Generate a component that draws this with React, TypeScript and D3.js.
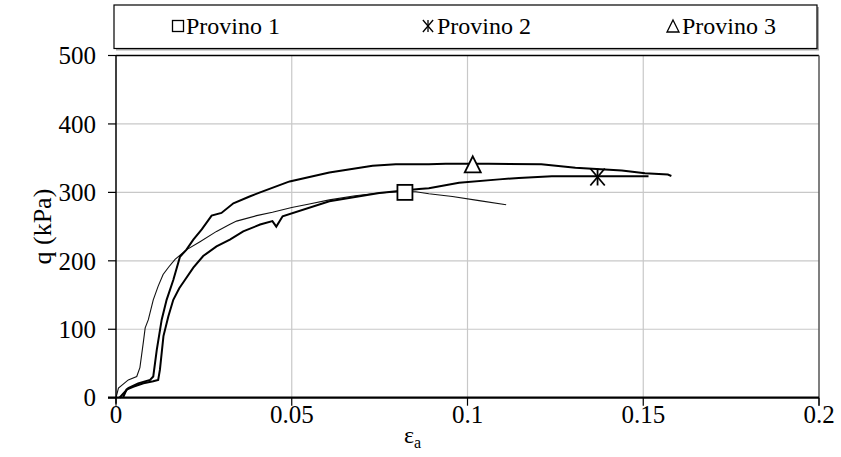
import React from "react";
import * as d3 from "d3";

const xTicks = [0, 0.05, 0.1, 0.15, 0.2];
const xTickLabels = ["0", "0.05", "0.1", "0.15", "0.2"];
const yTicks = [0, 100, 200, 300, 400, 500];

const provino1: [number, number][] = [
  [0, 0], [0.0007, 14], [0.0035, 26], [0.0059, 31], [0.0068, 44], [0.0078, 82],
  [0.0083, 102], [0.0092, 114], [0.0106, 143], [0.012, 163], [0.0134, 180],
  [0.015, 191], [0.0168, 202], [0.02, 216], [0.0239, 228], [0.0286, 243],
  [0.0323, 253], [0.0343, 258], [0.04, 266], [0.0445, 271], [0.05, 278],
  [0.055, 283], [0.0607, 289], [0.068, 295], [0.0749, 299], [0.08, 301],
  [0.0853, 301], [0.089, 298], [0.0957, 294], [0.1033, 288], [0.111, 282],
];

const provino2: [number, number][] = [
  [0.002, 0], [0.003, 12], [0.0049, 16], [0.0078, 21], [0.0106, 24], [0.012, 26],
  [0.0125, 41], [0.0135, 90], [0.0149, 119], [0.0163, 143], [0.018, 160],
  [0.0196, 172], [0.022, 190], [0.0248, 207], [0.0286, 221], [0.0324, 231],
  [0.0362, 243], [0.041, 253], [0.0445, 258], [0.0456, 250], [0.0474, 265],
  [0.0607, 287], [0.0749, 299], [0.0862, 305], [0.089, 306], [0.0976, 314],
  [0.109, 319], [0.1146, 321], [0.124, 323.5], [0.1515, 323.5],
];

const provino3: [number, number][] = [
  [0.001, 0], [0.0035, 14], [0.0063, 21], [0.0097, 26], [0.0106, 31], [0.0116, 70],
  [0.013, 114], [0.0144, 143], [0.0163, 172], [0.0182, 206], [0.02, 216],
  [0.022, 231], [0.0244, 246], [0.0272, 266], [0.03, 270], [0.0334, 284],
  [0.038, 294], [0.041, 300], [0.0494, 316], [0.0607, 329], [0.073, 339],
  [0.0796, 341], [0.089, 341], [0.0938, 342], [0.0995, 342], [0.106, 342],
  [0.121, 341], [0.1307, 336], [0.1439, 332], [0.1505, 328], [0.157, 326],
  [0.158, 324],
];

const markerSquare: [number, number] = [0.0822, 300];
const markerAsterisk: [number, number] = [0.137, 322.5];
const markerTriangle: [number, number] = [0.1015, 341];

const legendLabels = ["Provino 1", "Provino 2", "Provino 3"];

const W = 841;
const H = 457;
const left = 116;
const right = 819;
const top = 55.5;
const bottom = 397.7;

const font = "'Liberation Serif', 'Times New Roman', serif";

function Square({ cx, cy, s, sw }: { cx: number; cy: number; s: number; sw: number }) {
  return <rect x={cx - s / 2} y={cy - s / 2} width={s} height={s} fill="white" stroke="black" strokeWidth={sw} />;
}
function Asterisk({ cx, cy, s, sw }: { cx: number; cy: number; s: number; sw: number }) {
  const h = s / 2;
  return (
    <g stroke="black" strokeWidth={sw}>
      <line x1={cx} y1={cy - h} x2={cx} y2={cy + h} />
      <line x1={cx - h * 0.85} y1={cy - h} x2={cx + h * 0.85} y2={cy + h} />
      <line x1={cx - h * 0.85} y1={cy + h} x2={cx + h * 0.85} y2={cy - h} />
    </g>
  );
}
function Triangle({ cx, cy, s, sw }: { cx: number; cy: number; s: number; sw: number }) {
  const h = s / 2;
  return (
    <path
      d={`M${cx},${cy - h} L${cx + h},${cy + h} L${cx - h},${cy + h} Z`}
      fill="white"
      stroke="black"
      strokeWidth={sw}
    />
  );
}

export default function App() {
  const x = d3.scaleLinear().domain([0, 0.2]).range([left, right]);
  const y = d3.scaleLinear().domain([0, 500]).range([bottom, top]);
  const line = d3
    .line<[number, number]>()
    .x((d) => x(d[0]))
    .y((d) => y(d[1]));

  return (
    <svg width={W} height={H} style={{ position: "absolute", left: 0, top: 0 }}>
      <rect x={0} y={0} width={W} height={H} fill="white" />
      {yTicks.slice(1, -1).map((t) => (
        <line key={"gy" + t} x1={left} x2={right} y1={y(t)} y2={y(t)} stroke="#c8c8c8" strokeWidth={1.2} />
      ))}
      {xTicks.slice(1, -1).map((t) => (
        <line key={"gx" + t} x1={x(t)} x2={x(t)} y1={top} y2={bottom} stroke="#c8c8c8" strokeWidth={1.2} />
      ))}
      <line x1={left} x2={right} y1={top} y2={top} stroke="black" strokeWidth={1.5} />
      <line x1={right} x2={right} y1={top} y2={bottom + 8} stroke="#555" strokeWidth={1.5} />

      <path d={line(provino1) || ""} fill="none" stroke="#111" strokeWidth={1.1} />
      <path d={line(provino2) || ""} fill="none" stroke="black" strokeWidth={2} />
      <path d={line(provino3) || ""} fill="none" stroke="black" strokeWidth={2} />

      <line x1={left} x2={left} y1={top} y2={bottom + 6} stroke="black" strokeWidth={1.5} />
      <line x1={left - 8} x2={right} y1={bottom} y2={bottom} stroke="black" strokeWidth={2.2} />
      {yTicks.map((t) => (
        <g key={"ty" + t}>
          <line x1={left - 8} x2={left} y1={y(t)} y2={y(t)} stroke="black" strokeWidth={1.2} />
          <text x={left - 20} y={y(t)} dy="0.35em" textAnchor="end" fontFamily={font} fontSize={25}>
            {t}
          </text>
        </g>
      ))}
      {xTicks.map((t, i) => (
        <g key={"tx" + t}>
          <line x1={x(t)} x2={x(t)} y1={bottom} y2={bottom + 8} stroke="black" strokeWidth={1.2} />
          <text x={x(t)} y={414} dy="0.35em" textAnchor="middle" fontFamily={font} fontSize={25}>
            {xTickLabels[i]}
          </text>
        </g>
      ))}

      <text
        transform={`translate(42, ${(top + bottom) / 2}) rotate(-90)`}
        textAnchor="middle"
        dy="0.35em"
        fontFamily={font}
        fontSize={26}
      >
        q (kPa)
      </text>
      <text x={404} y={443} fontFamily={font} fontSize={24}>
        ε<tspan fontSize={16} dy={5}>a</tspan>
      </text>

      <Square cx={x(markerSquare[0])} cy={y(markerSquare[1])} s={15} sw={1.8} />
      <Asterisk cx={x(markerAsterisk[0])} cy={y(markerAsterisk[1])} s={17} sw={1.8} />
      <Triangle cx={x(markerTriangle[0])} cy={y(markerTriangle[1])} s={16} sw={1.8} />

      <rect x={116} y={7} width={703} height={43.5} fill="#aaa" />
      <rect x={114} y={5} width={703} height={43.5} fill="white" stroke="black" strokeWidth={1.2} />
      <Square cx={178} cy={26} s={11} sw={1.3} />
      <text x={186} y={26} dy="0.35em" fontFamily={font} fontSize={24}>{legendLabels[0]}</text>
      <Asterisk cx={428} cy={26} s={12} sw={1.3} />
      <text x={437} y={26} dy="0.35em" fontFamily={font} fontSize={24}>{legendLabels[1]}</text>
      <Triangle cx={673} cy={26} s={12} sw={1.3} />
      <text x={682} y={26} dy="0.35em" fontFamily={font} fontSize={24}>{legendLabels[2]}</text>
    </svg>
  );
}
